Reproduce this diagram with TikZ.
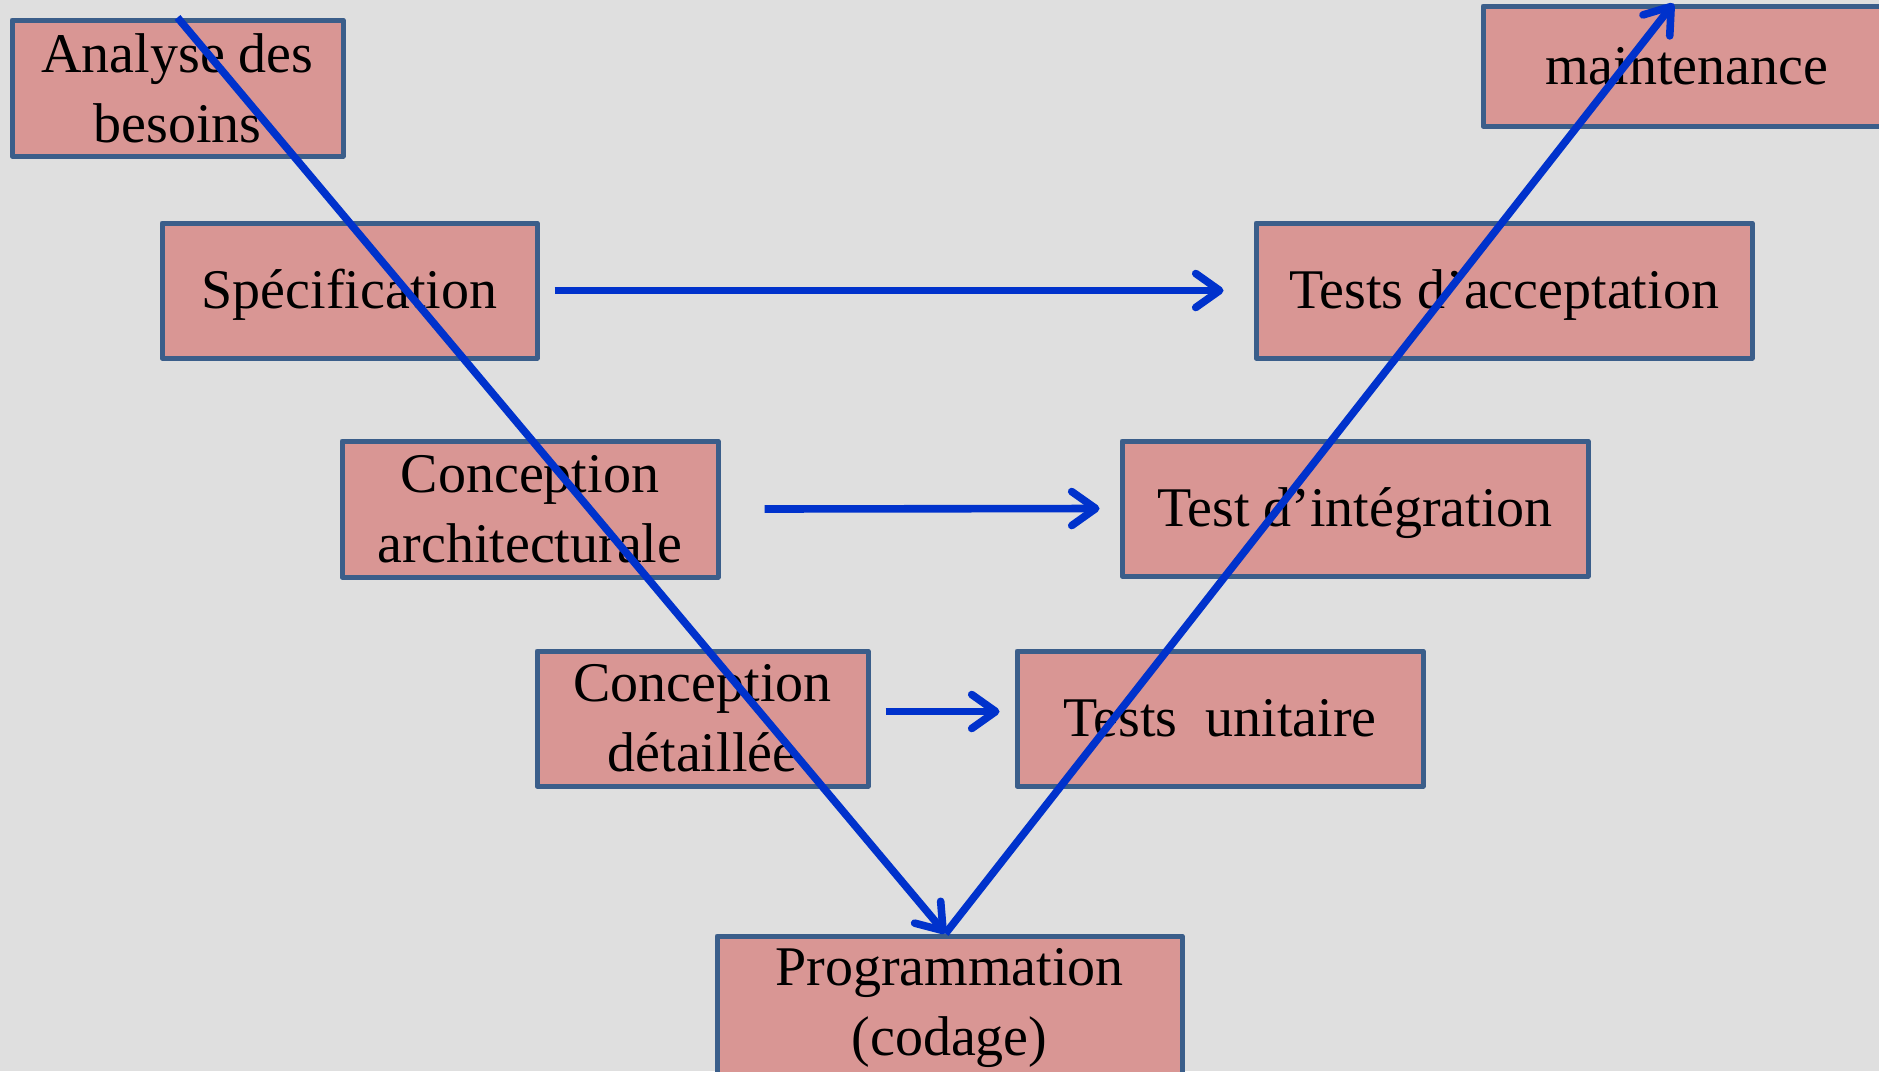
\documentclass[tikz,border=0pt]{standalone}
\usepackage{fontspec}
\setmainfont{Liberation Serif}
\usetikzlibrary{arrows.meta,calc}
\definecolor{bgc}{HTML}{DFDFDF}
\definecolor{boxfill}{HTML}{D99694}
\definecolor{boxline}{HTML}{3B5E8A}
\definecolor{arrblue}{HTML}{0032CC}
\tikzset{
  phase/.style={draw=boxline, fill=boxfill, line width=2.5pt, line join=round,
    inner sep=0pt, align=center, font=\fontsize{28}{35}\selectfont, text=black},
  oneline/.style={text height=24pt, text depth=6pt},
  flow/.style={draw=arrblue, line width=3.8pt,
    -{Straight Barb[length=12pt,width=17pt,round]}}
}
\begin{document}
\begin{tikzpicture}[x=0.5pt,y=-0.5pt]
\fill[bgc] (0,0) rectangle (1879,1071);
\useasboundingbox (0,0) rectangle (1879,1071);

\node[phase, minimum width=165.5pt, minimum height=68pt] (ana) at (177.5,88) {Analyse des\\besoins};
\node[phase, oneline, minimum width=203.5pt, minimum height=60pt] (maint) at (1686.5,66) {maintenance};
\node[phase, oneline, minimum width=187.5pt, minimum height=67.5pt] (spec) at (349.5,290.5) {Spécification};
\node[phase, oneline, minimum width=248pt, minimum height=67.5pt] (acc) at (1504,290.5) {Tests d’acceptation};
\node[phase, minimum width=188pt, minimum height=68pt] (arch) at (530,509) {Conception\\architecturale};
\node[phase, oneline, minimum width=233pt, minimum height=67.5pt] (integ) at (1355,508.5) {Test d’intégration};
\node[phase, minimum width=165.5pt, minimum height=67.5pt] (det) at (702.5,718.5) {Conception\\détaillée};
\node[phase, oneline, minimum width=203pt, minimum height=67.5pt] (unit) at (1220,718.5) {Tests\ \ unitaire};
\node[phase, minimum width=232.5pt, minimum height=72pt] (prog) at (949.5,1008) {Programmation\\(codage)};

\draw[flow] ($(spec.east)+(15,0)$) -- ($(acc.west)+(-30,0)$);
\draw[flow] ($(arch.east)+(44,0)$) -- ($(integ.west)+(-20,0)$);
\draw[flow] ($(det.east)+(15,-7)$) -- ($(unit.west)+(-15,-7)$);

\coordinate (vtip) at ($(prog.north)+(-4,0)$);
\draw[flow] (ana.north) -- (vtip);
\draw[flow] (vtip) -- ($(maint.north)+(-13,0)$);
\end{tikzpicture}
\end{document}
